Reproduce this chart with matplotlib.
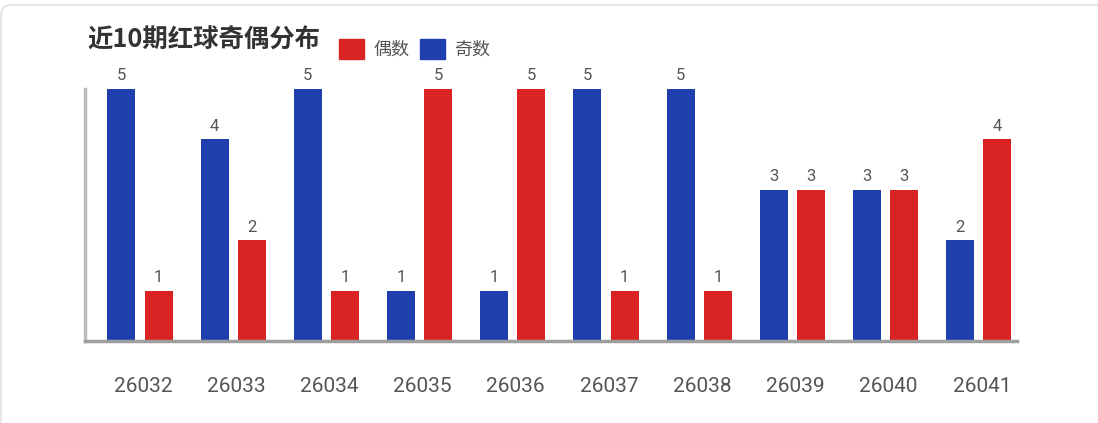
import numpy as np
import matplotlib
matplotlib.use("Agg")
import matplotlib.pyplot as plt
from matplotlib.patches import Patch, FancyBboxPatch
from matplotlib.transforms import IdentityTransform, ScaledTranslation

plt.rcParams['font.family'] = ['Roboto', 'Noto Sans CJK SC', 'DejaVu Sans']

# 数据
periods = ['26032', '26033', '26034', '26035', '26036',
           '26037', '26038', '26039', '26040', '26041']
odd_counts = [5, 4, 5, 1, 1, 5, 5, 3, 3, 2]   # 奇数
even_counts = [1, 2, 1, 5, 5, 1, 1, 3, 3, 4]  # 偶数

blue = '#1f3fae'
red = '#da2424'
bar_w = 0.30
offset = 0.20

fig = plt.figure(figsize=(10.98, 4.23), dpi=100)

# 卡片边框
card = FancyBboxPatch((1, -20), 1120, 438, boxstyle='round,pad=0,rounding_size=10',
                      transform=IdentityTransform(), facecolor='none',
                      edgecolor='#e6e6e6', linewidth=1.5, zorder=-1)
fig.patches.append(card)

ax = fig.add_axes([85 / 1098, 82 / 423, 932 / 1098, 252 / 423])
ax.set_facecolor('none')

x = np.arange(len(periods))
b1 = ax.bar(x - offset, odd_counts, bar_w, color=blue, clip_on=False, zorder=2)
b2 = ax.bar(x + offset, even_counts, bar_w, color=red, clip_on=False, zorder=2)
ax.bar_label(b1, padding=4, fontsize=12, color='#555555')
ax.bar_label(b2, padding=4, fontsize=12, color='#555555')

ax.set_xlim(-0.59, 9.41)
ax.set_ylim(0, 5)
ax.set_yticks([])
ax.set_xticks(x)
ax.set_xticklabels(periods, fontsize=15, color='#555555')
ax.tick_params(axis='x', length=0, pad=26)
shift = ScaledTranslation(3 / 100, 0, fig.dpi_scale_trans)
for lab in ax.get_xticklabels():
    lab.set_transform(lab.get_transform() + shift)

for s in ['top', 'right']:
    ax.spines[s].set_visible(False)
ax.spines['bottom'].set_color('#9e9e9e')
ax.spines['bottom'].set_linewidth(2.5)
ax.spines['left'].set_color('#bdbdbd')
ax.spines['left'].set_linewidth(2.5)

# 标题和图例
fig.text(87 / 1098, 1 - 40 / 423, '近10期红球奇偶分布', fontsize=18.3, fontweight='bold',
         color='#333333', va='center', ha='left', family=['Noto Sans CJK SC'])

handles = [Patch(facecolor=red, edgecolor=red), Patch(facecolor=blue, edgecolor=blue)]
fig.legend(handles, ['偶数', '奇数'], loc='center left',
           bbox_to_anchor=(339 / 1098, 1 - 49 / 423), ncol=2, frameon=False,
           handlelength=1.4, handleheight=1.4, handletextpad=0.5,
           columnspacing=0.6, borderpad=0, borderaxespad=0, labelcolor='#555555',
           prop={'family': ['Noto Sans CJK SC'], 'size': 13})

plt.savefig('out.png', dpi=100)
